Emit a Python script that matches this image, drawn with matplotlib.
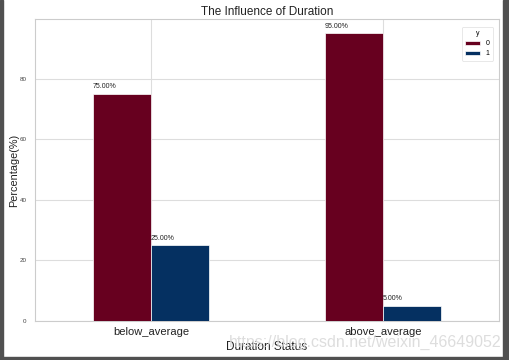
import numpy as np
import matplotlib

matplotlib.use("Agg")
import matplotlib.pyplot as plt
from matplotlib.patches import Rectangle

# ===================== Data =====================
categories = ["below_average", "above_average"]
y0_pct = [75.0, 95.0]
y1_pct = [25.0, 5.0]
series_names = ["0", "1"]
colors = ["#67001f", "#053061"]

# ===================== Style =====================
plt.rcParams.update({
    "font.family": "Liberation Sans",
    "axes.edgecolor": "#cccccc",
    "axes.linewidth": 0.8,
})

fig = plt.figure(figsize=(5.09, 3.6), dpi=100)
fig.patch.set_facecolor("white")
ax = fig.add_axes([35 / 509, 1 - 321 / 360, 464 / 509, 302 / 360])

x = np.arange(len(categories))
w = 0.25
bars0 = ax.bar(x - w / 2, y0_pct, width=w, color=colors[0], label=series_names[0],
               edgecolor="white", linewidth=0.5, zorder=3)
bars1 = ax.bar(x + w / 2, y1_pct, width=w, color=colors[1], label=series_names[1],
               edgecolor="white", linewidth=0.5, zorder=3)

for bars in (bars0, bars1):
    for b in bars:
        ax.text(b.get_x(), b.get_height() + 1.2, "%.2f%%" % b.get_height(),
                fontsize=5, ha="left", va="bottom", color="#222222", zorder=4)

# ===================== Axes =====================
ax.set_xlim(-0.5, 1.5)
ax.set_ylim(0, 99.75)
ax.set_xticks(x)
ax.set_xticklabels(categories, fontsize=8)
ax.set_yticks([0, 20, 40, 60, 80])
ax.tick_params(axis="y", labelsize=4.5, length=0, pad=6, labelcolor="#444444")
ax.tick_params(axis="x", length=0, pad=4, labelcolor="#222222")
ax.grid(True, color="#dddddd", linewidth=0.8, zorder=0)
ax.set_axisbelow(True)

ax.set_title("The Influence of Duration", fontsize=8.5, pad=3, color="#222222")
ax.set_xlabel("Duration Status", fontsize=8.5, labelpad=3, color="#222222")
ax.set_ylabel("Percentage(%)", fontsize=7.8, color="#222222", va="center")
ax.yaxis.set_label_coords(-0.044, 0.5)

leg = ax.legend(title="y", loc="upper right", fontsize=5, title_fontsize=5,
                frameon=True, handlelength=2.2, handleheight=0.5,
                borderpad=0.5, labelspacing=0.4, bbox_to_anchor=(0.995, 0.985))
leg.get_frame().set_edgecolor("#dddddd")
leg.get_frame().set_linewidth(0.6)

# watermark
fig.text(0.985, 1 - 342 / 360, "https://blog.csdn.net/weixin_46649052", fontsize=11.5,
         color="#dadada", ha="right", va="center", alpha=0.9)

# screenshot border
fig.patches.append(Rectangle((0, 0), 3 / 509, 1, transform=fig.transFigure,
                             color="#505050", zorder=10))
fig.patches.append(Rectangle((503 / 509, 0), 6 / 509, 1, transform=fig.transFigure,
                             color="#505050", zorder=10))
fig.patches.append(Rectangle((0, 0), 1, 3 / 360, transform=fig.transFigure,
                             color="#505050", zorder=10))

fig.savefig("out.png", dpi=100)
